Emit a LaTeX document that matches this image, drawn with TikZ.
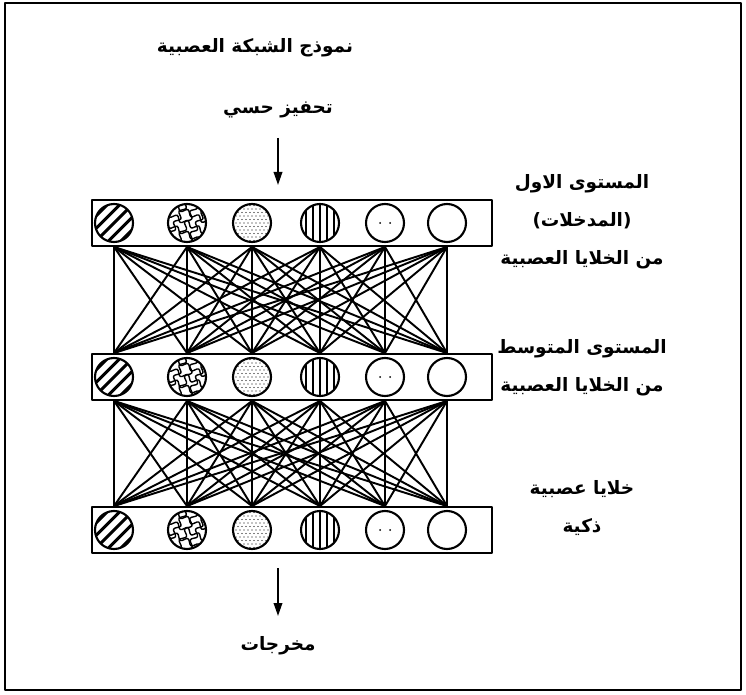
\documentclass[tikz,border=0pt]{standalone}
\usepackage{fontspec}
\newfontfamily\arabicfont[Script=Arabic]{DejaVu Sans}
\TeXXeTstate=1
\usetikzlibrary{arrows.meta,decorations.pathmorphing}
\newcommand\ar[1]{\beginR #1\endR}
\tikzset{
  txt/.style={font=\arabicfont\bfseries\fontsize{10.5}{21.6}\selectfont,align=center,inner sep=0},
  layer/.style={draw,line width=1.1pt,minimum width=8cm,minimum height=0.92cm,inner sep=0},
  cell/.style={circle,draw,fill=white,line width=1.2pt,minimum size=0.76cm,inner sep=0},
  wire/.style={line width=1.1pt},
  diag/.style={cell,path picture={\begin{scope}[shift={(path picture bounding box.center)},x=1cm,y=1cm]
    \foreach \k in {-0.5,-0.25,...,0.5} \draw[black,line width=1.8pt] (\k-0.5,-0.5)--(\k+0.5,0.5);
    \end{scope}}},
  mesh/.style={cell,path picture={\begin{scope}[shift={(path picture bounding box.center)},x=1cm,y=1cm,
    decoration={snake,segment length=0.24cm,amplitude=0.05cm}]
    \foreach \k in {-0.22,0,0.22}{
      \draw[black,decorate,line width=0.8pt] (-0.5,\k+0.25)--(0.5,\k-0.25);
      \draw[black,decorate,line width=0.8pt] (\k-0.25,-0.5)--(\k+0.25,0.5);}
    \end{scope}}},
  dots/.style={cell,path picture={\begin{scope}[shift={(path picture bounding box.center)},x=1cm,y=1cm]
    \foreach \i in {-5,...,5} \foreach \j in {-5,...,5}
      \fill[black] ({\i*0.08+mod(\j+10,2)*0.04},{\j*0.07}) circle (0.014);
    \end{scope}}},
  vert/.style={cell,path picture={\begin{scope}[shift={(path picture bounding box.center)},x=1cm,y=1cm]
    \foreach \k in {-0.28,-0.14,0,0.14,0.28} \draw[black,line width=0.9pt] (\k,-0.5)--(\k,0.5);
    \end{scope}}},
  spots/.style={cell,path picture={\begin{scope}[shift={(path picture bounding box.center)},x=1cm,y=1cm]
    \fill[black] (-0.1,0) circle (0.02) (0.1,0) circle (0.02);
    \end{scope}}},
  plain/.style={cell}
}
\begin{document}
\begin{tikzpicture}[x=0.02cm,y=-0.02cm,>={Triangle[length=0.26cm,width=0.17cm]},line join=round]
\useasboundingbox (0,0) rectangle (746,695);
\draw[line width=1.1pt] (5,3) rectangle (741,690);
% titles
\node[txt] (title) at (255,48) {\ar{نموذج الشبكة العصبية}};
\node[txt] (stim) at (278,110) {\ar{تحفيز حسي}};
\coordinate (inTop) at (278,138);
\coordinate (inTip) at (278,185);
\draw[->,line width=1.1pt] (inTop)--(inTip);
% three layers of cells
\foreach \n/\y in {1/223,2/377,3/530}{
  \node[layer] (bar\n) at (292,\y) {};
  \foreach \s/\x [count=\i] in {diag/114,mesh/187,dots/252,vert/320,spots/385,plain/447}
    \node[\s] (c\n-\i) at (\x,\y) {};
}
% links between layers
\foreach \i in {1,...,6} \foreach \j in {1,...,6}{
  \draw[wire] (c1-\i |- bar1.south)--(c2-\j |- bar2.north);
  \draw[wire] (c2-\i |- bar2.south)--(c3-\j |- bar3.north);
}
% output
\coordinate (outTop) at (278,568);
\coordinate (outTip) at (278,616);
\draw[->,line width=1.1pt] (outTop)--(outTip);
\node[txt] (out) at (278,646) {\ar{مخرجات}};
% side labels
\node[txt] (lab1) at (582,222) {\ar{المستوى الاول}\\\ar{(المدخلات)}\\\ar{من الخلايا العصبية}};
\node[txt] (lab2) at (582,368) {\ar{المستوى المتوسط}\\\ar{من الخلايا العصبية}};
\node[txt] (lab3) at (582,508) {\ar{خلايا عصبية}\\\ar{ذكية}};
\end{tikzpicture}
\end{document}
